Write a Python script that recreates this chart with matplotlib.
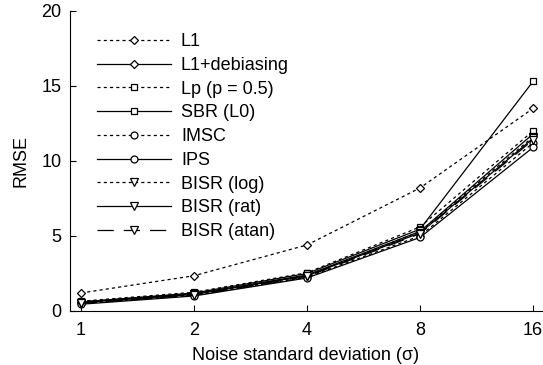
import matplotlib
matplotlib.use("Agg")
import matplotlib.pyplot as plt

plt.rcParams['font.family'] = ['Liberation Sans', 'DejaVu Sans']
plt.rcParams['font.size'] = 13

sigma = [1, 2, 4, 8, 16]

labels = ["L1", "L1+debiasing", "Lp (p = 0.5)", "SBR (L0)", "IMSC", "IPS",
          "BISR (log)", "BISR (rat)", "BISR (atan)"]

l1 = [1.2, 2.35, 4.4, 8.2, 13.5]
l1_debias = [0.6, 1.15, 2.4, 5.3, 11.8]
lp = [0.65, 1.25, 2.55, 5.6, 12.0]
sbr = [0.6, 1.2, 2.5, 5.45, 15.3]
imsc = [0.5, 1.05, 2.25, 5.0, 11.2]
ips = [0.45, 1.0, 2.2, 4.9, 10.9]
bisr_log = [0.55, 1.1, 2.35, 5.3, 11.6]
bisr_rat = [0.55, 1.1, 2.35, 5.2, 11.5]
bisr_atan = [0.5, 1.05, 2.3, 5.15, 11.4]

series = [l1, l1_debias, lp, sbr, imsc, ips, bisr_log, bisr_rat, bisr_atan]
markers = ['D', 'D', 's', 's', 'o', 'o', 'v', 'v', 'v']
msizes = [4.5, 4.5, 5, 5, 5, 5, 5.5, 5.5, 5.5]
dotted = (0, (2.5, 2.5))
styles = [dotted, '-', dotted, '-', dotted, '-', dotted, '-', (0, (13, 8))]

fig = plt.figure(figsize=(5.43, 3.65), dpi=100)
ax = fig.add_axes([0.129, 0.148, 0.869, 0.822])

for vals, lab, m, ms, ls in zip(series, labels, markers, msizes, styles):
    ax.plot(sigma, vals, color='black', linestyle=ls, linewidth=0.9,
            marker=m, markersize=ms, markerfacecolor='white',
            markeredgecolor='black', markeredgewidth=0.9, label=lab)

ax.set_xscale('log', base=2)
ax.set_xlim(0.935, 16.9)
ax.set_ylim(0, 20)
ax.set_xticks(sigma)
ax.set_xticklabels([str(s) for s in sigma])
ax.minorticks_off()
ax.set_yticks([0, 5, 10, 15, 20])
ax.tick_params(direction='in', length=4, width=0.8)
ax.tick_params(axis='x', pad=8)
ax.tick_params(axis='y', pad=6)
ax.spines['top'].set_visible(False)
ax.spines['right'].set_visible(False)

ax.set_xlabel("Noise standard deviation (σ)", labelpad=6)
ax.set_ylabel("RMSE", labelpad=9)

ax.legend(loc='upper left', frameon=False, handlelength=4.1,
          labelspacing=0.37, borderaxespad=0, borderpad=0,
          bbox_to_anchor=(0.057, 0.925), handletextpad=0.55)

fig.savefig("out.png", dpi=100)
